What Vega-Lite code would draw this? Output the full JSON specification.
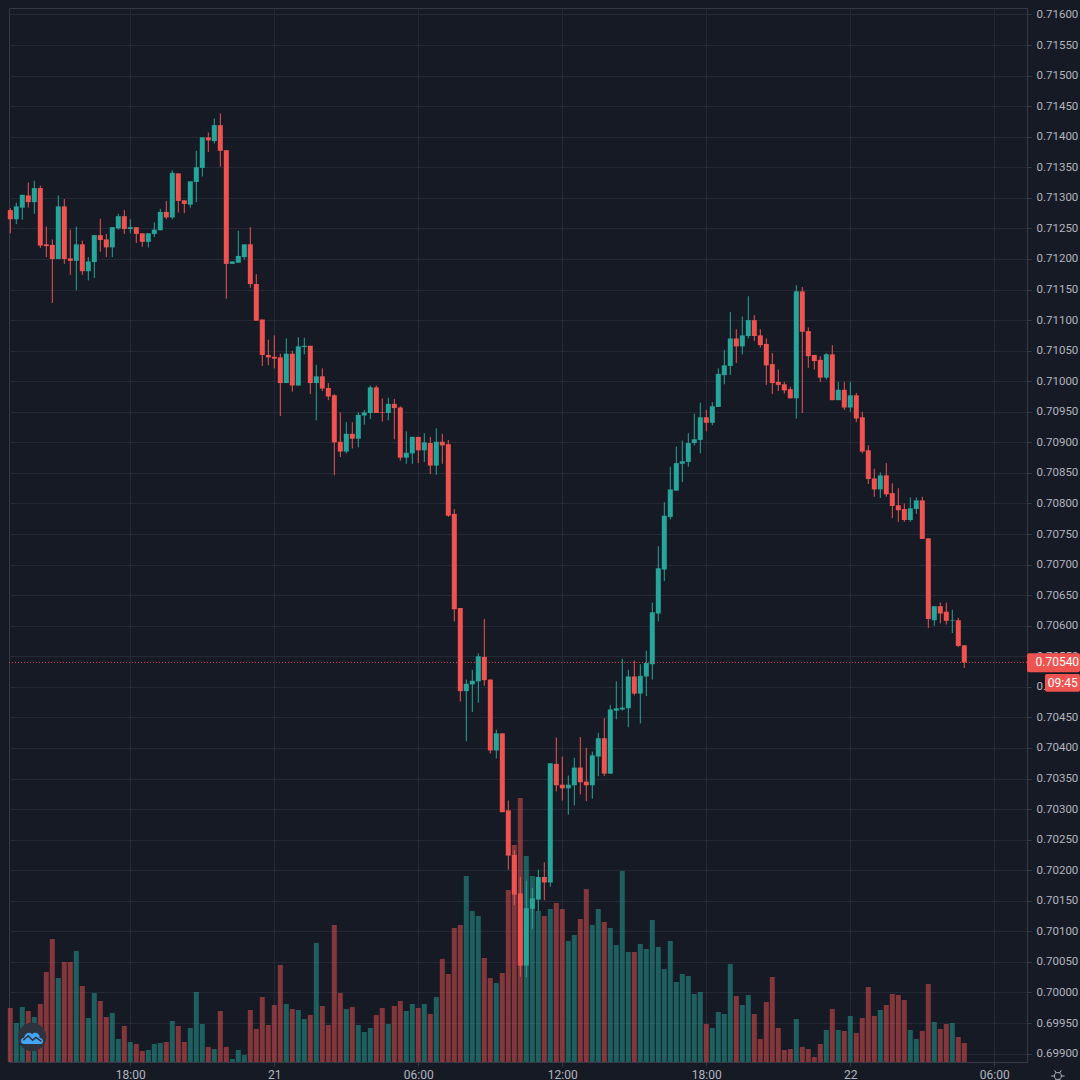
{"$schema":"https://vega.github.io/schema/vega-lite/v6.json","width":1018,"height":1054,"autosize":"none","padding":{"left":9,"top":8,"right":53,"bottom":18},"background":"#161a25",
"config":{"view":{"stroke":"#363a45","strokeWidth":1},"scale":{"continuousPadding":0},"axis":{"title":null,"labelFont":"Roboto","labelFontSize":12,"labelColor":"#b2b5be","domainColor":"#363a45","tickColor":"#363a45","gridColor":"#252935","gridWidth":1,"tickSize":4}},
"data":{"values":[
{"i":0,"o":0.71280,"h":0.71283,"l":0.71242,"c":0.71265,"v":54,"d":"down"},
{"i":1,"o":0.71265,"h":0.71292,"l":0.71257,"c":0.71286,"v":39,"d":"up"},
{"i":2,"o":0.71284,"h":0.71305,"l":0.71264,"c":0.71305,"v":55,"d":"up"},
{"i":3,"o":0.71304,"h":0.71325,"l":0.71284,"c":0.71293,"v":51,"d":"down"},
{"i":4,"o":0.71293,"h":0.71328,"l":0.71274,"c":0.71316,"v":45,"d":"up"},
{"i":5,"o":0.71316,"h":0.71320,"l":0.71218,"c":0.71222,"v":58,"d":"down"},
{"i":6,"o":0.71224,"h":0.71253,"l":0.71203,"c":0.71221,"v":90,"d":"down"},
{"i":7,"o":0.71223,"h":0.71232,"l":0.71128,"c":0.71200,"v":123,"d":"down"},
{"i":8,"o":0.71200,"h":0.71304,"l":0.71200,"c":0.71286,"v":84,"d":"up"},
{"i":9,"o":0.71286,"h":0.71298,"l":0.71192,"c":0.71200,"v":100,"d":"down"},
{"i":10,"o":0.71201,"h":0.71248,"l":0.71174,"c":0.71197,"v":100,"d":"down"},
{"i":11,"o":0.71197,"h":0.71253,"l":0.71149,"c":0.71224,"v":111,"d":"up"},
{"i":12,"o":0.71224,"h":0.71230,"l":0.71174,"c":0.71180,"v":76,"d":"down"},
{"i":13,"o":0.71180,"h":0.71203,"l":0.71165,"c":0.71196,"v":44,"d":"up"},
{"i":14,"o":0.71195,"h":0.71239,"l":0.71169,"c":0.71239,"v":69,"d":"up"},
{"i":15,"o":0.71239,"h":0.71266,"l":0.71212,"c":0.71231,"v":61,"d":"down"},
{"i":16,"o":0.71232,"h":0.71241,"l":0.71203,"c":0.71219,"v":45,"d":"down"},
{"i":17,"o":0.71219,"h":0.71252,"l":0.71203,"c":0.71252,"v":49,"d":"up"},
{"i":18,"o":0.71250,"h":0.71274,"l":0.71248,"c":0.71270,"v":23,"d":"up"},
{"i":19,"o":0.71270,"h":0.71280,"l":0.71241,"c":0.71249,"v":36,"d":"down"},
{"i":20,"o":0.71249,"h":0.71265,"l":0.71242,"c":0.71252,"v":20,"d":"up"},
{"i":21,"o":0.71252,"h":0.71252,"l":0.71226,"c":0.71241,"v":18,"d":"down"},
{"i":22,"o":0.71242,"h":0.71242,"l":0.71220,"c":0.71228,"v":11,"d":"down"},
{"i":23,"o":0.71228,"h":0.71242,"l":0.71219,"c":0.71242,"v":12,"d":"up"},
{"i":24,"o":0.71241,"h":0.71260,"l":0.71236,"c":0.71248,"v":18,"d":"up"},
{"i":25,"o":0.71247,"h":0.71282,"l":0.71247,"c":0.71277,"v":19,"d":"up"},
{"i":26,"o":0.71277,"h":0.71295,"l":0.71265,"c":0.71268,"v":20,"d":"down"},
{"i":27,"o":0.71268,"h":0.71345,"l":0.71265,"c":0.71341,"v":41,"d":"up"},
{"i":28,"o":0.71340,"h":0.71340,"l":0.71276,"c":0.71295,"v":36,"d":"down"},
{"i":29,"o":0.71296,"h":0.71296,"l":0.71275,"c":0.71290,"v":20,"d":"down"},
{"i":30,"o":0.71289,"h":0.71327,"l":0.71284,"c":0.71327,"v":34,"d":"up"},
{"i":31,"o":0.71326,"h":0.71377,"l":0.71293,"c":0.71350,"v":70,"d":"up"},
{"i":32,"o":0.71349,"h":0.71399,"l":0.71335,"c":0.71399,"v":38,"d":"up"},
{"i":33,"o":0.71399,"h":0.71407,"l":0.71375,"c":0.71394,"v":15,"d":"down"},
{"i":34,"o":0.71393,"h":0.71430,"l":0.71389,"c":0.71419,"v":13,"d":"up"},
{"i":35,"o":0.71419,"h":0.71438,"l":0.71351,"c":0.71377,"v":51,"d":"down"},
{"i":36,"o":0.71378,"h":0.71378,"l":0.71135,"c":0.71192,"v":15,"d":"down"},
{"i":37,"o":0.71192,"h":0.71196,"l":0.71192,"c":0.71196,"v":3,"d":"up"},
{"i":38,"o":0.71194,"h":0.71246,"l":0.71194,"c":0.71205,"v":12,"d":"up"},
{"i":39,"o":0.71203,"h":0.71224,"l":0.71199,"c":0.71224,"v":7,"d":"up"},
{"i":40,"o":0.71224,"h":0.71252,"l":0.71153,"c":0.71159,"v":52,"d":"down"},
{"i":41,"o":0.71159,"h":0.71175,"l":0.71099,"c":0.71099,"v":33,"d":"down"},
{"i":42,"o":0.71101,"h":0.71101,"l":0.71025,"c":0.71043,"v":65,"d":"down"},
{"i":43,"o":0.71043,"h":0.71068,"l":0.71026,"c":0.71039,"v":37,"d":"down"},
{"i":44,"o":0.71040,"h":0.71075,"l":0.71021,"c":0.71037,"v":57,"d":"down"},
{"i":45,"o":0.71039,"h":0.71045,"l":0.70943,"c":0.70997,"v":97,"d":"down"},
{"i":46,"o":0.70997,"h":0.71070,"l":0.70997,"c":0.71045,"v":58,"d":"up"},
{"i":47,"o":0.71045,"h":0.71050,"l":0.70983,"c":0.70993,"v":53,"d":"down"},
{"i":48,"o":0.70993,"h":0.71072,"l":0.70993,"c":0.71057,"v":52,"d":"up"},
{"i":49,"o":0.71056,"h":0.71071,"l":0.71044,"c":0.71058,"v":43,"d":"up"},
{"i":50,"o":0.71058,"h":0.71058,"l":0.70979,"c":0.70997,"v":47,"d":"down"},
{"i":51,"o":0.70997,"h":0.71027,"l":0.70936,"c":0.71008,"v":119,"d":"up"},
{"i":52,"o":0.71008,"h":0.71021,"l":0.70984,"c":0.70988,"v":56,"d":"down"},
{"i":53,"o":0.70989,"h":0.70997,"l":0.70969,"c":0.70975,"v":37,"d":"down"},
{"i":54,"o":0.70977,"h":0.70979,"l":0.70846,"c":0.70900,"v":137,"d":"down"},
{"i":55,"o":0.70901,"h":0.70949,"l":0.70876,"c":0.70885,"v":69,"d":"down"},
{"i":56,"o":0.70885,"h":0.70933,"l":0.70882,"c":0.70914,"v":53,"d":"up"},
{"i":57,"o":0.70914,"h":0.70933,"l":0.70890,"c":0.70906,"v":55,"d":"down"},
{"i":58,"o":0.70906,"h":0.70949,"l":0.70892,"c":0.70945,"v":37,"d":"up"},
{"i":59,"o":0.70944,"h":0.70953,"l":0.70929,"c":0.70949,"v":30,"d":"up"},
{"i":60,"o":0.70948,"h":0.70993,"l":0.70938,"c":0.70990,"v":34,"d":"up"},
{"i":61,"o":0.70990,"h":0.70993,"l":0.70948,"c":0.70948,"v":47,"d":"down"},
{"i":62,"o":0.70949,"h":0.70972,"l":0.70934,"c":0.70948,"v":54,"d":"down"},
{"i":63,"o":0.70948,"h":0.70973,"l":0.70936,"c":0.70963,"v":38,"d":"up"},
{"i":64,"o":0.70963,"h":0.70971,"l":0.70905,"c":0.70956,"v":56,"d":"down"},
{"i":65,"o":0.70957,"h":0.70959,"l":0.70870,"c":0.70875,"v":61,"d":"down"},
{"i":66,"o":0.70875,"h":0.70918,"l":0.70865,"c":0.70883,"v":51,"d":"up"},
{"i":67,"o":0.70882,"h":0.70909,"l":0.70865,"c":0.70909,"v":58,"d":"up"},
{"i":68,"o":0.70909,"h":0.70909,"l":0.70866,"c":0.70887,"v":54,"d":"down"},
{"i":69,"o":0.70887,"h":0.70915,"l":0.70868,"c":0.70900,"v":58,"d":"up"},
{"i":70,"o":0.70899,"h":0.70909,"l":0.70848,"c":0.70862,"v":48,"d":"down"},
{"i":71,"o":0.70862,"h":0.70923,"l":0.70847,"c":0.70901,"v":65,"d":"up"},
{"i":72,"o":0.70901,"h":0.70914,"l":0.70865,"c":0.70895,"v":103,"d":"down"},
{"i":73,"o":0.70897,"h":0.70904,"l":0.70778,"c":0.70780,"v":88,"d":"down"},
{"i":74,"o":0.70783,"h":0.70791,"l":0.70607,"c":0.70627,"v":134,"d":"down"},
{"i":75,"o":0.70629,"h":0.70629,"l":0.70476,"c":0.70493,"v":137,"d":"down"},
{"i":76,"o":0.70493,"h":0.70512,"l":0.70411,"c":0.70505,"v":186,"d":"up"},
{"i":77,"o":0.70504,"h":0.70528,"l":0.70459,"c":0.70510,"v":151,"d":"up"},
{"i":78,"o":0.70509,"h":0.70555,"l":0.70474,"c":0.70550,"v":146,"d":"up"},
{"i":79,"o":0.70549,"h":0.70611,"l":0.70502,"c":0.70511,"v":104,"d":"down"},
{"i":80,"o":0.70512,"h":0.70512,"l":0.70391,"c":0.70396,"v":84,"d":"down"},
{"i":81,"o":0.70396,"h":0.70430,"l":0.70383,"c":0.70424,"v":79,"d":"up"},
{"i":82,"o":0.70424,"h":0.70424,"l":0.70295,"c":0.70295,"v":89,"d":"down"},
{"i":83,"o":0.70298,"h":0.70314,"l":0.70201,"c":0.70224,"v":172,"d":"down"},
{"i":84,"o":0.70225,"h":0.70233,"l":0.70143,"c":0.70160,"v":217,"d":"down"},
{"i":85,"o":0.70162,"h":0.70189,"l":0.70026,"c":0.70044,"v":264,"d":"down"},
{"i":86,"o":0.70044,"h":0.70183,"l":0.70025,"c":0.70138,"v":206,"d":"up"},
{"i":87,"o":0.70137,"h":0.70171,"l":0.70104,"c":0.70154,"v":186,"d":"up"},
{"i":88,"o":0.70152,"h":0.70201,"l":0.70133,"c":0.70189,"v":151,"d":"up"},
{"i":89,"o":0.70189,"h":0.70213,"l":0.70151,"c":0.70180,"v":146,"d":"down"},
{"i":90,"o":0.70180,"h":0.70375,"l":0.70173,"c":0.70375,"v":153,"d":"up"},
{"i":91,"o":0.70374,"h":0.70417,"l":0.70329,"c":0.70339,"v":159,"d":"down"},
{"i":92,"o":0.70340,"h":0.70386,"l":0.70314,"c":0.70334,"v":153,"d":"down"},
{"i":93,"o":0.70334,"h":0.70355,"l":0.70291,"c":0.70340,"v":121,"d":"up"},
{"i":94,"o":0.70339,"h":0.70384,"l":0.70306,"c":0.70368,"v":127,"d":"up"},
{"i":95,"o":0.70368,"h":0.70418,"l":0.70324,"c":0.70344,"v":143,"d":"down"},
{"i":96,"o":0.70345,"h":0.70400,"l":0.70313,"c":0.70339,"v":173,"d":"down"},
{"i":97,"o":0.70339,"h":0.70394,"l":0.70317,"c":0.70388,"v":137,"d":"up"},
{"i":98,"o":0.70386,"h":0.70425,"l":0.70354,"c":0.70416,"v":153,"d":"up"},
{"i":99,"o":0.70416,"h":0.70449,"l":0.70354,"c":0.70358,"v":140,"d":"down"},
{"i":100,"o":0.70358,"h":0.70470,"l":0.70358,"c":0.70463,"v":134,"d":"up"},
{"i":101,"o":0.70461,"h":0.70509,"l":0.70447,"c":0.70465,"v":117,"d":"up"},
{"i":102,"o":0.70463,"h":0.70546,"l":0.70461,"c":0.70466,"v":191,"d":"up"},
{"i":103,"o":0.70465,"h":0.70528,"l":0.70434,"c":0.70517,"v":110,"d":"up"},
{"i":104,"o":0.70517,"h":0.70543,"l":0.70486,"c":0.70489,"v":110,"d":"down"},
{"i":105,"o":0.70489,"h":0.70537,"l":0.70440,"c":0.70518,"v":118,"d":"up"},
{"i":106,"o":0.70517,"h":0.70559,"l":0.70485,"c":0.70539,"v":113,"d":"up"},
{"i":107,"o":0.70537,"h":0.70638,"l":0.70512,"c":0.70622,"v":142,"d":"up"},
{"i":108,"o":0.70620,"h":0.70730,"l":0.70607,"c":0.70694,"v":115,"d":"up"},
{"i":109,"o":0.70692,"h":0.70802,"l":0.70673,"c":0.70780,"v":93,"d":"up"},
{"i":110,"o":0.70778,"h":0.70860,"l":0.70774,"c":0.70823,"v":121,"d":"up"},
{"i":111,"o":0.70821,"h":0.70893,"l":0.70821,"c":0.70866,"v":80,"d":"up"},
{"i":112,"o":0.70865,"h":0.70903,"l":0.70835,"c":0.70869,"v":88,"d":"up"},
{"i":113,"o":0.70868,"h":0.70915,"l":0.70860,"c":0.70899,"v":86,"d":"up"},
{"i":114,"o":0.70899,"h":0.70947,"l":0.70895,"c":0.70905,"v":68,"d":"up"},
{"i":115,"o":0.70904,"h":0.70965,"l":0.70882,"c":0.70941,"v":70,"d":"up"},
{"i":116,"o":0.70941,"h":0.70953,"l":0.70918,"c":0.70932,"v":38,"d":"down"},
{"i":117,"o":0.70932,"h":0.70966,"l":0.70928,"c":0.70959,"v":34,"d":"up"},
{"i":118,"o":0.70958,"h":0.71021,"l":0.70958,"c":0.71012,"v":50,"d":"up"},
{"i":119,"o":0.71010,"h":0.71051,"l":0.70995,"c":0.71026,"v":48,"d":"up"},
{"i":120,"o":0.71025,"h":0.71113,"l":0.71010,"c":0.71070,"v":98,"d":"up"},
{"i":121,"o":0.71070,"h":0.71085,"l":0.71030,"c":0.71057,"v":66,"d":"down"},
{"i":122,"o":0.71057,"h":0.71106,"l":0.71044,"c":0.71075,"v":57,"d":"up"},
{"i":123,"o":0.71074,"h":0.71139,"l":0.71070,"c":0.71100,"v":67,"d":"up"},
{"i":124,"o":0.71100,"h":0.71108,"l":0.71066,"c":0.71074,"v":48,"d":"down"},
{"i":125,"o":0.71075,"h":0.71085,"l":0.71055,"c":0.71059,"v":23,"d":"down"},
{"i":126,"o":0.71061,"h":0.71070,"l":0.70994,"c":0.71026,"v":60,"d":"down"},
{"i":127,"o":0.71028,"h":0.71046,"l":0.70979,"c":0.70997,"v":85,"d":"down"},
{"i":128,"o":0.70999,"h":0.71019,"l":0.70984,"c":0.70994,"v":34,"d":"down"},
{"i":129,"o":0.70995,"h":0.70999,"l":0.70980,"c":0.70985,"v":12,"d":"down"},
{"i":130,"o":0.70987,"h":0.70991,"l":0.70972,"c":0.70972,"v":13,"d":"down"},
{"i":131,"o":0.70972,"h":0.71157,"l":0.70939,"c":0.71147,"v":43,"d":"up"},
{"i":132,"o":0.71147,"h":0.71154,"l":0.70948,"c":0.71081,"v":15,"d":"down"},
{"i":133,"o":0.71082,"h":0.71088,"l":0.71022,"c":0.71041,"v":13,"d":"down"},
{"i":134,"o":0.71043,"h":0.71043,"l":0.71019,"c":0.71033,"v":5,"d":"down"},
{"i":135,"o":0.71035,"h":0.71041,"l":0.70999,"c":0.71006,"v":18,"d":"down"},
{"i":136,"o":0.71006,"h":0.71046,"l":0.71003,"c":0.71044,"v":32,"d":"up"},
{"i":137,"o":0.71044,"h":0.71059,"l":0.70969,"c":0.70969,"v":53,"d":"down"},
{"i":138,"o":0.70969,"h":0.70999,"l":0.70969,"c":0.70986,"v":32,"d":"up"},
{"i":139,"o":0.70986,"h":0.70999,"l":0.70953,"c":0.70957,"v":31,"d":"down"},
{"i":140,"o":0.70957,"h":0.70999,"l":0.70950,"c":0.70977,"v":46,"d":"up"},
{"i":141,"o":0.70977,"h":0.70981,"l":0.70933,"c":0.70939,"v":29,"d":"down"},
{"i":142,"o":0.70941,"h":0.70950,"l":0.70882,"c":0.70885,"v":44,"d":"down"},
{"i":143,"o":0.70887,"h":0.70895,"l":0.70832,"c":0.70840,"v":75,"d":"down"},
{"i":144,"o":0.70841,"h":0.70857,"l":0.70811,"c":0.70823,"v":46,"d":"down"},
{"i":145,"o":0.70823,"h":0.70851,"l":0.70809,"c":0.70846,"v":52,"d":"up"},
{"i":146,"o":0.70846,"h":0.70866,"l":0.70811,"c":0.70815,"v":57,"d":"down"},
{"i":147,"o":0.70817,"h":0.70833,"l":0.70776,"c":0.70796,"v":68,"d":"down"},
{"i":148,"o":0.70797,"h":0.70825,"l":0.70770,"c":0.70789,"v":67,"d":"down"},
{"i":149,"o":0.70791,"h":0.70800,"l":0.70770,"c":0.70773,"v":62,"d":"down"},
{"i":150,"o":0.70773,"h":0.70810,"l":0.70770,"c":0.70792,"v":32,"d":"up"},
{"i":151,"o":0.70791,"h":0.70810,"l":0.70783,"c":0.70805,"v":23,"d":"up"},
{"i":152,"o":0.70805,"h":0.70811,"l":0.70742,"c":0.70742,"v":31,"d":"down"},
{"i":153,"o":0.70743,"h":0.70743,"l":0.70596,"c":0.70611,"v":78,"d":"down"},
{"i":154,"o":0.70609,"h":0.70632,"l":0.70600,"c":0.70632,"v":40,"d":"up"},
{"i":155,"o":0.70632,"h":0.70638,"l":0.70604,"c":0.70620,"v":33,"d":"down"},
{"i":156,"o":0.70623,"h":0.70638,"l":0.70602,"c":0.70608,"v":38,"d":"down"},
{"i":157,"o":0.70608,"h":0.70626,"l":0.70588,"c":0.70609,"v":39,"d":"up"},
{"i":158,"o":0.70609,"h":0.70613,"l":0.70565,"c":0.70567,"v":25,"d":"down"},
{"i":159,"o":0.70568,"h":0.70568,"l":0.70531,"c":0.70540,"v":19,"d":"down"}
]},
"resolve":{"scale":{"y":"independent"}},
"encoding":{"x":{"field":"i","type":"quantitative","scale":{"domain":[-0.2167,169.45],"nice":false,"zero":false,"padding":0},"axis":{"values":[20,44,68,92,116,140,164],"labelExpr":"{'20':'18:00','44':'21','68':'06:00','92':'12:00','116':'18:00','140':'22','164':'06:00'}[datum.value]","grid":true,"tickSize":4,"labelPadding":3,"labelFlush":false}}},
"layer":[
{"mark":{"type":"bar","width":5,"opacity":0.5},"encoding":{"y":{"field":"v","type":"quantitative","scale":{"domain":[0,1054],"nice":false,"zero":true},"axis":null},"color":{"field":"d","type":"nominal","scale":{"domain":["up","down"],"range":["#26a69a","#ef5350"]},"legend":null}}},
{"mark":{"type":"rule","strokeWidth":1},"encoding":{"y":{"field":"l","type":"quantitative","scale":{"domain":[0.698863,0.716106],"nice":false,"zero":false},"axis":{"orient":"right","values":[0.699,0.6995,0.7,0.7005,0.701,0.7015,0.702,0.7025,0.703,0.7035,0.704,0.7045,0.705,0.7055,0.706,0.7065,0.707,0.7075,0.708,0.7085,0.709,0.7095,0.71,0.7105,0.711,0.7115,0.712,0.7125,0.713,0.7135,0.714,0.7145,0.715,0.7155,0.716],"format":".5f","grid":true,"labelOverlap":false,"labelPadding":5,"labelFontSize":11.5,"labelFlush":false}},"y2":{"field":"h"},"color":{"field":"d","type":"nominal","legend":null}}},
{"mark":{"type":"bar","width":5},"encoding":{"y":{"field":"o","type":"quantitative","scale":{"domain":[0.698863,0.716106],"nice":false,"zero":false},"axis":null},"y2":{"field":"c"},"color":{"field":"d","type":"nominal","legend":null}}},
{"data":{"values":[{"price":0.7054}]},"mark":{"type":"rule","color":"#ef5350","strokeWidth":1,"strokeDash":[1,2],"opacity":0.9},"encoding":{"x":null,"y":{"field":"price","type":"quantitative","scale":{"domain":[0.698863,0.716106],"nice":false,"zero":false},"axis":null}}},
{"data":{"values":[{"i":169.45,"x1":178.3,"y0":0.70555,"y1":0.70524}]},"mark":{"type":"rect","color":"#ef5350","cornerRadius":2},"encoding":{"x2":{"field":"x1"},"y":{"field":"y0","type":"quantitative","scale":{"domain":[0.698863,0.716106],"nice":false,"zero":false},"axis":null},"y2":{"field":"y1"}}},
{"data":{"values":[{"i":172.45,"x1":178.3,"y0":0.70521,"y1":0.70492}]},"mark":{"type":"rect","color":"#ef5350","cornerRadius":2},"encoding":{"x2":{"field":"x1"},"y":{"field":"y0","type":"quantitative","scale":{"domain":[0.698863,0.716106],"nice":false,"zero":false},"axis":null},"y2":{"field":"y1"}}},
{"data":{"values":[{"label":"0.70540","i":174.5,"y":0.7054},{"label":"09:45","i":175.4,"y":0.70506}]},"mark":{"type":"text","color":"#ffffff","font":"Roboto","fontSize":12,"align":"center","baseline":"middle"},"encoding":{"y":{"field":"y","type":"quantitative","scale":{"domain":[0.698863,0.716106],"nice":false,"zero":false},"axis":null},"text":{"field":"label"}}},
{"data":{"values":[{"i":3.62,"y":25}]},"mark":{"type":"point","shape":"circle","filled":true,"color":"#2e323d","size":800,"opacity":1},"encoding":{"y":{"field":"y","type":"quantitative","scale":{"domain":[0,1054],"nice":false,"zero":true},"axis":null}}},
{"data":{"values":[{"i":3.62,"y":24}]},"mark":{"type":"point","shape":"M-0.75,0.55 C-1.1,0.55 -1.1,0 -0.72,-0.02 C-0.65,-0.45 -0.25,-0.6 0,-0.35 C0.3,-0.65 0.75,-0.4 0.7,0 C1.1,0 1.1,0.55 0.78,0.55 Z","filled":true,"color":"#42a5f5","size":480,"opacity":1},"encoding":{"y":{"field":"y","type":"quantitative","scale":{"domain":[0,1054],"nice":false,"zero":true},"axis":null}}},
{"data":{"values":[{"i":3.62,"y":24}]},"mark":{"type":"point","shape":"M-0.8,0.2 L-0.35,-0.2 L0.05,0.2 L0.35,-0.05 L0.85,0.3","filled":false,"stroke":"#2e323d","strokeWidth":1.5,"size":480,"opacity":1},"encoding":{"y":{"field":"y","type":"quantitative","scale":{"domain":[0,1054],"nice":false,"zero":true},"axis":null}}},
{"data":{"values":[{"i":174.6,"y":-14}]},"mark":{"type":"point","shape":"M0.5,0 A0.5,0.5 0 1 1 -0.5,0 A0.5,0.5 0 1 1 0.5,0 Z M0.5,0 L0.95,0 M-0.5,0 L-0.95,0 M0.25,0.43 L0.47,0.82 M-0.25,0.43 L-0.47,0.82 M0.25,-0.43 L0.47,-0.82 M-0.25,-0.43 L-0.47,-0.82","filled":false,"stroke":"#b2b5be","strokeWidth":1,"size":196,"opacity":1},"encoding":{"y":{"field":"y","type":"quantitative","scale":{"domain":[0,1054],"nice":false,"zero":true},"axis":null}}}
]}
